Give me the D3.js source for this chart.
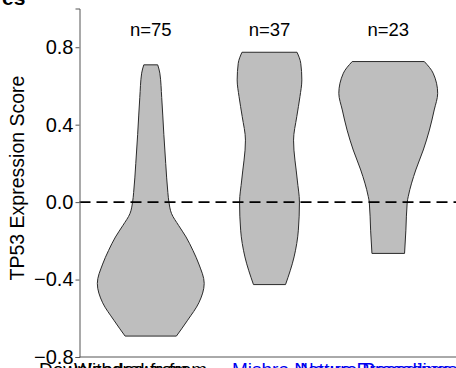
<!DOCTYPE html>
<html>
<head>
<meta charset="utf-8">
<script src="https://cdn.jsdelivr.net/npm/d3@7"></script>
<style>
  body { margin: 0; background: #fff; }
  svg { display: block; font-family: "Liberation Sans", Arial, sans-serif; }
</style>
</head>
<body>
<svg id="chart" width="456" height="368"></svg>
<script>
const groups = ['A', 'B', 'C'];
const counts = [75, 37, 23];
const yTicks = [-0.8, -0.4, 0.0, 0.4, 0.8];

// violin outlines: [score, relative density]
const violinA = [
  [-0.692, 0.48], [-0.61, 0.69], [-0.52, 0.90], [-0.42, 1.0], [-0.32, 0.90],
  [-0.25, 0.79], [-0.18, 0.66], [-0.12, 0.52], [-0.06, 0.39], [0.0, 0.34],
  [0.05, 0.32], [0.2, 0.28], [0.35, 0.245], [0.54, 0.205], [0.666, 0.17], [0.709, 0.13]
];
const violinB = [
  [-0.426, 0.30], [-0.283, 0.46], [-0.145, 0.54], [0.0, 0.56], [0.114, 0.52],
  [0.32, 0.45], [0.441, 0.51], [0.545, 0.57], [0.631, 0.605], [0.717, 0.585], [0.774, 0.515]
];
const violinC = [
  [-0.265, 0.305], [-0.145, 0.33], [0.0, 0.355], [0.03, 0.375], [0.166, 0.515],
  [0.269, 0.655], [0.372, 0.77], [0.476, 0.86], [0.562, 0.925], [0.666, 0.84], [0.726, 0.675]
];
const violins = [violinA, violinB, violinC];

const svg = d3.select('#chart');
const margin = { left: 79.5, top: 8.5, bottom: 357 };
const plotRight = 459.5;

const y = d3.scaleLinear()
  .domain([-0.8, 1.0])
  .range([margin.bottom, margin.top]);

const x = d3.scalePoint()
  .domain(groups)
  .range([margin.left, plotRight])
  .padding(0.6);

const w = d3.scaleLinear()
  .domain([0, 1])
  .range([0, x.step() * 0.45]);

const axisColor = '#555';

// violins
const area = d3.area()
  .y(d => y(d[0]))
  .curve(d3.curveMonotoneY);

violins.forEach((v, i) => {
  const cx = x(groups[i]);
  svg.append('path')
    .datum(v)
    .attr('d', area.x0(d => cx - w(d[1])).x1(d => cx + w(d[1])))
    .attr('fill', '#bebebe')
    .attr('stroke', '#2a2a2a')
    .attr('stroke-width', 1);
});

// dashed zero line
svg.append('line')
  .attr('x1', margin.left)
  .attr('x2', 456)
  .attr('y1', y(0))
  .attr('y2', y(0))
  .attr('stroke', '#000')
  .attr('stroke-width', 1.6)
  .attr('stroke-dasharray', '11,6');

// axes
const yAxis = d3.axisLeft(y)
  .tickValues(yTicks)
  .tickFormat(d3.format('.1f'))
  .tickSize(4)
  .tickPadding(2);

const gy = svg.append('g')
  .attr('transform', `translate(${margin.left},0)`)
  .call(yAxis);
gy.select('.domain').attr('stroke', axisColor);
gy.selectAll('.tick line').attr('stroke', axisColor);
gy.selectAll('.tick text')
  .attr('font-size', 20)
  .attr('fill', '#000')
  .attr('font-family', '"Liberation Sans", Arial, sans-serif')
  .text(d => d3.format('.1f')(d).replace('-', '\u2212'));

svg.append('line')
  .attr('x1', margin.left)
  .attr('x2', plotRight)
  .attr('y1', margin.bottom)
  .attr('y2', margin.bottom)
  .attr('stroke', axisColor);

// n labels
svg.selectAll('.nlab')
  .data(groups)
  .enter()
  .append('text')
  .attr('class', 'nlab')
  .attr('x', g => x(g))
  .attr('y', 36)
  .attr('text-anchor', 'middle')
  .attr('font-size', 18.5)
  .text((g, i) => `n=${counts[i]}`);

// y title
svg.append('text')
  .attr('transform', `translate(24,178) rotate(-90)`)
  .attr('text-anchor', 'middle')
  .attr('font-size', 19.5)
  .text('TP53 Expression Score');

// cropped panel title at the top
svg.append('text')
  .attr('x', 2)
  .attr('y', 5)
  .attr('font-size', 21)
  .attr('font-weight', 'bold')
  .text('es');

// overlapped footer text, cut off at the bottom (as in the source)
svg.append('text')
  .attr('x', 39).attr('y', 376)
  .attr('font-size', 19)
  .text('Downloaded from');
svg.append('text')
  .attr('x', 74).attr('y', 376)
  .attr('font-size', 19)
  .text('Withdrawn from');
svg.append('text')
  .attr('x', 232).attr('y', 376)
  .attr('font-size', 19)
  .attr('fill', '#0000ee')
  .text('Mishra Nature Precedings');
svg.append('text')
  .attr('x', 300).attr('y', 376)
  .attr('font-size', 19)
  .attr('fill', '#0000ee')
  .text('Nature Precedings');
</script>
</body>
</html>
